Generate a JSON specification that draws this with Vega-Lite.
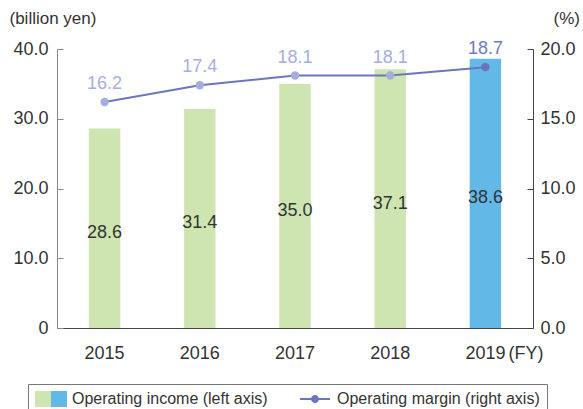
{
  "$schema": "https://vega.github.io/schema/vega-lite/v6.json",
  "width": 476,
  "height": 279,
  "autosize": "none",
  "padding": {"left": 57, "top": 49, "right": 50, "bottom": 81},
  "config": {
    "font": "Liberation Sans",
    "view": {"stroke": null},
    "axis": {"grid": false, "labelColor": "#333", "titleColor": "#333", "labelFontSize": 18, "titleFontSize": 17, "titleFontWeight": "normal", "labelFont": "Liberation Sans", "titleFont": "Liberation Sans"},
    "legend": {
      "orient": "none",
      "legendX": -29,
      "legendY": 335,
      "direction": "horizontal",
      "padding": 7,
      "strokeColor": "#777",
      "fillColor": "white",
      "labelFontSize": 16,
      "labelColor": "#333",
      "labelFont": "Liberation Sans",
      "labelLimit": 400,
      "symbolSize": 256,
      "labelOffset": 21,
      "columnPadding": 32,
      "symbolStrokeWidth": 0,
      "symbolOpacity": 1
    }
  },
  "data": {
    "values": [
      {"year": "2015", "income": 28.6, "margin": 16.2},
      {"year": "2016", "income": 31.4, "margin": 17.4},
      {"year": "2017", "income": 35.0, "margin": 18.1},
      {"year": "2018", "income": 37.1, "margin": 18.1},
      {"year": "2019", "income": 38.6, "margin": 18.7}
    ]
  },
  "encoding": {
    "x": {
      "field": "year",
      "type": "ordinal",
      "scale": {"paddingInner": 0, "paddingOuter": 0},
      "axis": {
        "labelAngle": 0,
        "ticks": false,
        "domainColor": "#444",
        "labelPadding": 16,
        "title": "(FY)",
        "titleAlign": "left",
        "titleBaseline": "top",
        "titleX": 451,
        "titleY": 16,
        "titleFontSize": 18
      }
    }
  },
  "layer": [
    {
      "mark": {"type": "bar", "width": {"band": 0.33}},
      "encoding": {
        "y": {
          "field": "income",
          "type": "quantitative",
          "scale": {"domain": [0, 40]},
          "axis": {
            "values": [0, 10, 20, 30, 40],
            "labelExpr": "datum.value == 0 ? '0' : format(datum.value, '.1f')",
            "tickSize": -6,
            "domainColor": "#888",
            "tickColor": "#888",
            "labelPadding": 15,
            "title": "(billion yen)",
            "titleAngle": 0,
            "titleAlign": "left",
            "titleBaseline": "middle",
            "titleX": -48,
            "titleY": -31
          }
        },
        "color": {"condition": {"test": "datum.year == '2019'", "value": "#62b9e8"}, "value": "#cee5b1"}
      }
    },
    {
      "mark": {"type": "text", "dy": 5, "fontSize": 18, "color": "#333", "baseline": "middle"},
      "encoding": {
        "y": {"field": "income", "type": "quantitative", "scale": {"domain": [0, 80]}, "axis": null},
        "text": {"field": "income", "type": "quantitative", "format": ".1f"}
      }
    },
    {
      "encoding": {
        "y": {
          "field": "margin",
          "type": "quantitative",
          "scale": {"domain": [0, 20]},
          "axis": {
            "orient": "right",
            "values": [0, 5, 10, 15, 20],
            "format": ".1f",
            "tickSize": -6,
            "domainColor": "#444",
            "tickColor": "#444",
            "labelPadding": 13,
            "title": "(%)",
            "titleAngle": 0,
            "titleAlign": "left",
            "titleBaseline": "middle",
            "titleX": 20,
            "titleY": -31
          }
        }
      },
      "layer": [
        {
          "mark": {"type": "line", "color": "#6b76c0", "strokeWidth": 2}
        },
        {
          "mark": {"type": "point", "filled": true, "size": 1, "opacity": 1, "strokeWidth": 0},
          "encoding": {
            "shape": {
              "datum": "Operating margin (right axis)",
              "scale": {"domain": ["Operating income (left axis)", "Operating margin (right axis)"], "range": ["M-1,-1H3V1H-1Z", "M-1,-0.125H2.75V0.125H-1Z M0.875,-0.5A0.5,0.5 0 1,1 0.875,0.5A0.5,0.5 0 1,1 0.875,-0.5Z"]},
              "legend": {"title": null}
            },
            "fill": {
              "datum": "Operating margin (right axis)",
              "scale": {"domain": ["Operating income (left axis)", "Operating margin (right axis)"], "range": [{"expr": "{gradient: 'linear', x1: 0, y1: 0, x2: 1, y2: 0, stops: [{offset: 0, color: '#cee5b1'}, {offset: 0.5, color: '#cee5b1'}, {offset: 0.5, color: '#62b9e8'}, {offset: 1, color: '#62b9e8'}]}"}, "#6b76c0"]},
              "legend": {"title": null}
            }
          }
        },
        {
          "mark": {"type": "point", "filled": true, "size": 70, "opacity": 1},
          "encoding": {"color": {"condition": {"test": "datum.year == '2019'", "value": "#6b73b8"}, "value": "#a6acdc"}}
        },
        {
          "mark": {"type": "text", "dy": -18, "fontSize": 18, "baseline": "middle"},
          "encoding": {
            "text": {"field": "margin", "type": "quantitative", "format": ".1f"},
            "color": {"condition": {"test": "datum.year == '2019'", "value": "#6f7bc2"}, "value": "#a5aedd"}
          }
        }
      ]
    }
  ],
  "resolve": {"scale": {"y": "independent"}}
}
